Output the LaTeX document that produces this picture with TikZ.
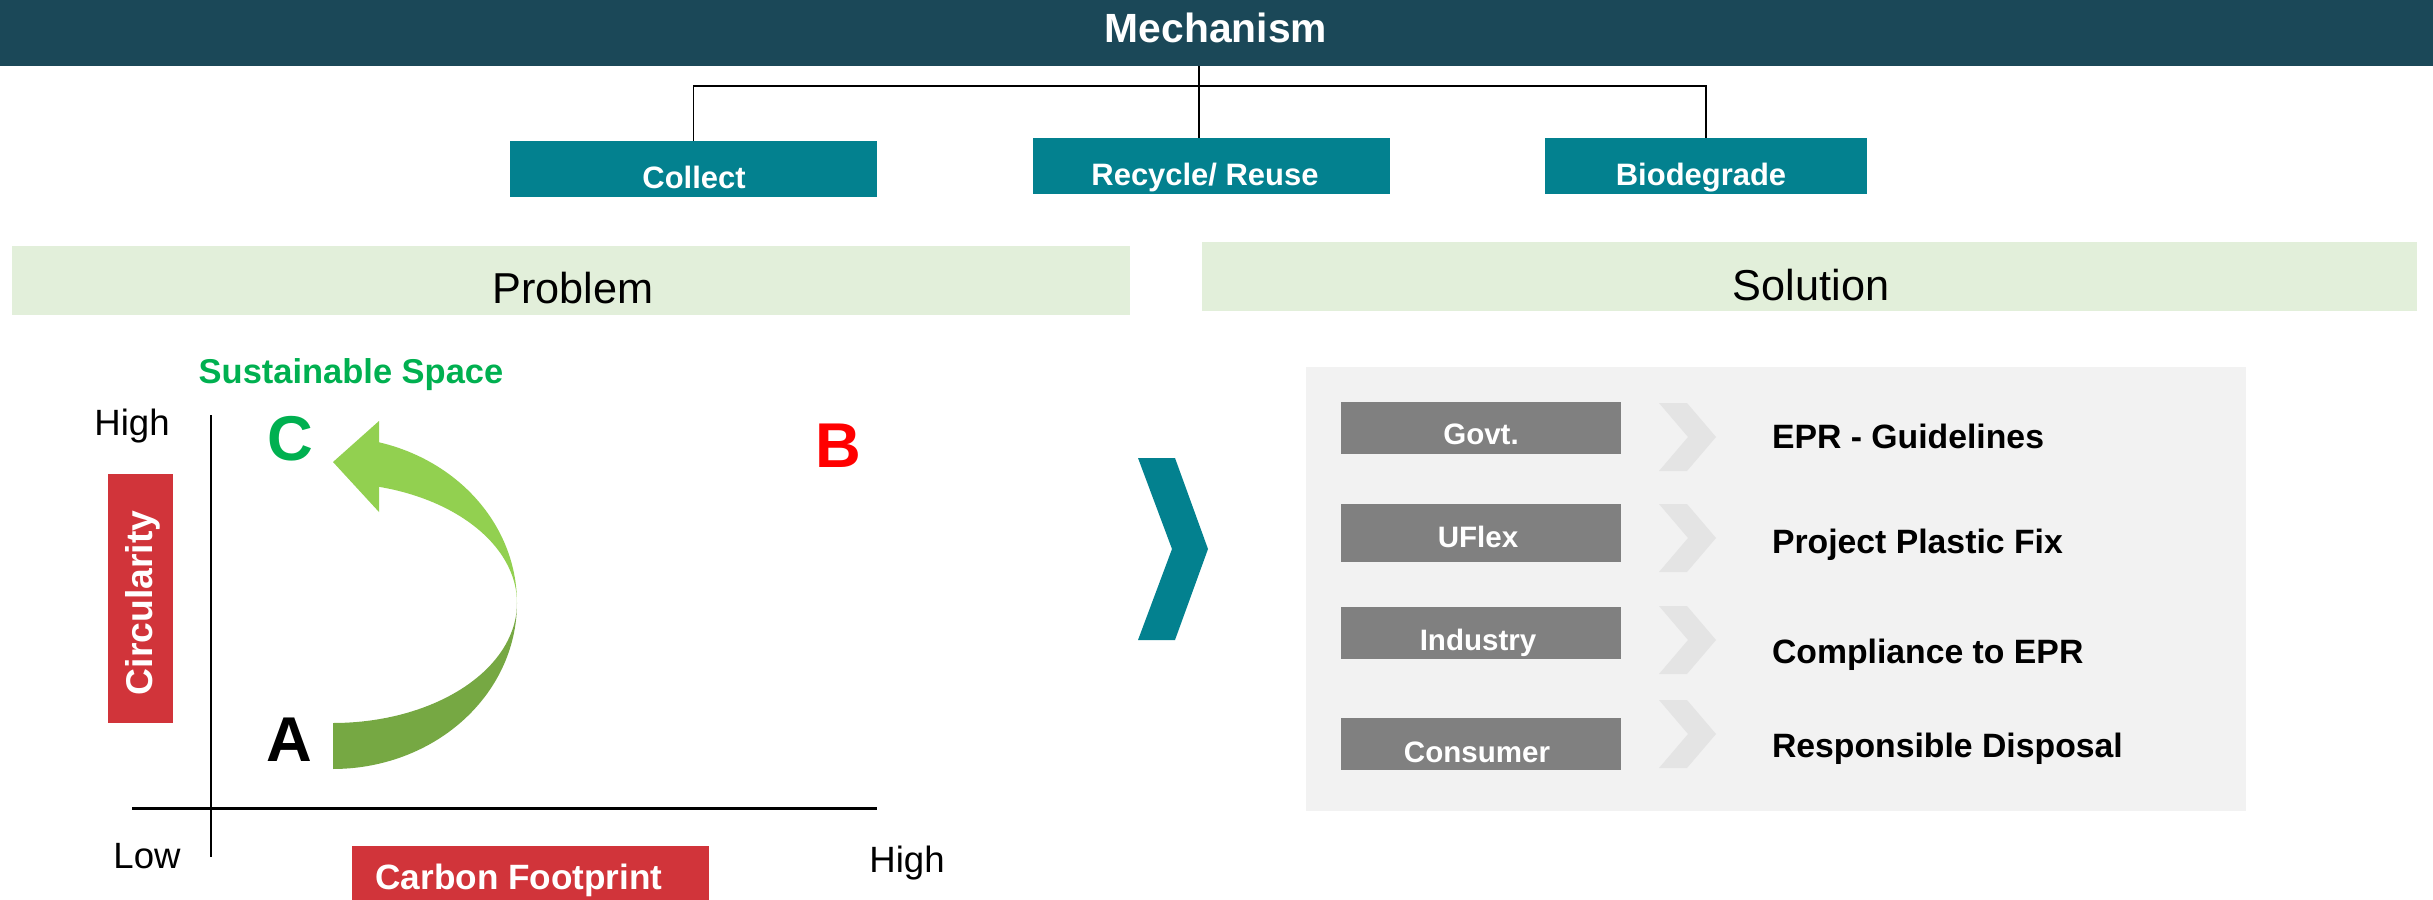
\documentclass[tikz,border=0pt]{standalone}
\usepackage{fontspec}
\setmainfont{Liberation Sans}
\usetikzlibrary{fit}
\definecolor{darkbar}{HTML}{1B4858}
\definecolor{mteal}{HTML}{03818F}
\definecolor{lgreen}{HTML}{E2EFDA}
\definecolor{mred}{HTML}{D1343A}
\definecolor{sgreen}{HTML}{00B050}
\definecolor{alight}{HTML}{92D050}
\definecolor{adark}{HTML}{76A843}
\definecolor{gbox}{HTML}{808080}
\definecolor{panel}{HTML}{F2F2F2}
\definecolor{chev}{HTML}{E4E4E4}
\tikzset{
  box/.style={inner sep=0pt, outer sep=0pt, draw=none},
  txt/.style={inner sep=0pt, outer sep=0pt, anchor=base},
  conn/.style={draw=black, line width=0.45pt},
  axisline/.style={draw=black, line width=0.6pt},
  fs/.style={font=\fontsize{#1}{#1}\selectfont},
  fsb/.style={font=\fontsize{#1}{#1}\selectfont\bfseries},
}
\begin{document}
\begin{tikzpicture}[x=0.01cm,y=-0.01cm]
\useasboundingbox (0,0) rectangle (2433,900);
% top bar and mechanism tree
\node[box, fill=darkbar, fit={(0,0) (2433,66)}] (mech) {};
\node[txt, fsb=11.6, text=white] (mechT) at (1216,42) {Mechanism};
\node[box, fill=mteal, fit={(510,141) (877,197)}] (collect) {};
\node[box, fill=mteal, fit={(1033,138) (1390,194)}] (recycle) {};
\node[box, fill=mteal, fit={(1545,138) (1867,194)}] (bio) {};
\node[txt, fsb=8.8, text=white] (collectT) at (694,188) {Collect};
\node[txt, fsb=8.8, text=white] (recycleT) at (1205,185) {Recycle/ Reuse};
\node[txt, fsb=8.8, text=white] (bioT) at (1701,185) {Biodegrade};
\coordinate (hub) at (1199,86);
\draw[conn] (mech.south -| hub) -- (recycle.north -| hub);
\draw[conn] (hub) -| (collect.north);
\draw[conn] (hub) -| (bio.north);
% problem / solution bars
\node[box, fill=lgreen, fit={(12,246) (1130,315)}] (prob) {};
\node[box, fill=lgreen, fit={(1202,242) (2417,311)}] (sol) {};
\node[txt, fs=12.3] (probT) at (573,303) {Problem};
\node[txt, fs=12.3] (solT) at (1811,300) {Solution};
% left chart
\node[txt, fsb=9.8, text=sgreen] (sust) at (351,383) {Sustainable Space};
\node[txt, fs=10.4] (highY) at (132,435) {High};
\node[txt, fs=10.4] (lowX) at (147,868) {Low};
\node[txt, fs=10.4] (highX) at (907,872) {High};
\coordinate (yT) at (211,415);
\coordinate (yB) at (211,857);
\coordinate (xL) at (132,808.5);
\coordinate (xR) at (877,808.5);
\draw[axisline] (yT) -- (yB);
\draw[axisline] (xL) -- (xR);
\node[box, fill=mred, fit={(108,474) (173,723)}] (circ) {};
\node[txt, fsb=10.6, text=white, rotate=90] (circT) at (152,603) {Circularity};
\node[box, fill=mred, fit={(352,846) (709,900)}] (carbon) {};
\node[txt, fsb=10, text=white] (carbonT) at (519,889) {Carbon Footprint};
\node[txt, fsb=18, text=sgreen] (Cl) at (290,460) {C};
\node[txt, fsb=18, text=red] (Bl) at (838,467) {B};
\node[txt, fsb=18, text=black] (Al) at (289,761) {A};
% curved arrow
\fill[adark] plot[domain=90:0, samples=50] ({333+184*cos(\x)},{603+120*sin(\x)})
  -- plot[domain=0:90, samples=50] ({333+184*cos(\x)},{603+166*sin(\x)}) -- cycle;
\fill[alight] plot[domain=0:75.5, samples=50] ({333+184*cos(\x)},{603-166*sin(\x)})
  -- (379,421) -- (333,462) -- (379,512)
  -- plot[domain=75.5:0, samples=50] ({333+184*cos(\x)},{603-120*sin(\x)}) -- cycle;
% big teal chevron
\fill[mteal] (1138,458) -- (1175,458) -- (1208,549) -- (1175,640) -- (1138,640) -- (1172,549) -- cycle;
% right panel
\node[box, fill=panel, fit={(1306,367) (2246,811)}] (pan) {};
\node[box, fill=gbox, fit={(1341,402) (1621,454)}] (govt) {};
\node[box, fill=gbox, fit={(1341,504) (1621,562)}] (uflex) {};
\node[box, fill=gbox, fit={(1341,607) (1621,659)}] (industry) {};
\node[box, fill=gbox, fit={(1341,718) (1621,770)}] (consumer) {};
\node[txt, fsb=8.4, text=white] (govtT) at (1481,444) {Govt.};
\node[txt, fsb=8.4, text=white] (uflexT) at (1478,547) {UFlex};
\node[txt, fsb=8.4, text=white] (industryT) at (1478,650) {Industry};
\node[txt, fsb=8.4, text=white] (consumerT) at (1477,762) {Consumer};
\foreach \yt/\yb in {403/471, 504/572, 606/674, 700/768}{
  \fill[chev] (1659,\yt) -- (1687,\yt) -- (1716,{(\yt+\yb)/2}) -- (1687,\yb) -- (1659,\yb) -- (1688,{(\yt+\yb)/2}) -- cycle;
}
\node[txt, fsb=9.6, anchor=base west] (epr) at (1772,448) {EPR - Guidelines};
\node[txt, fsb=9.6, anchor=base west] (ppf) at (1772,553) {Project Plastic Fix};
\node[txt, fsb=9.6, anchor=base west] (comp) at (1772,663) {Compliance to EPR};
\node[txt, fsb=9.6, anchor=base west] (resp) at (1772,757) {Responsible Disposal};
\end{tikzpicture}
\end{document}
